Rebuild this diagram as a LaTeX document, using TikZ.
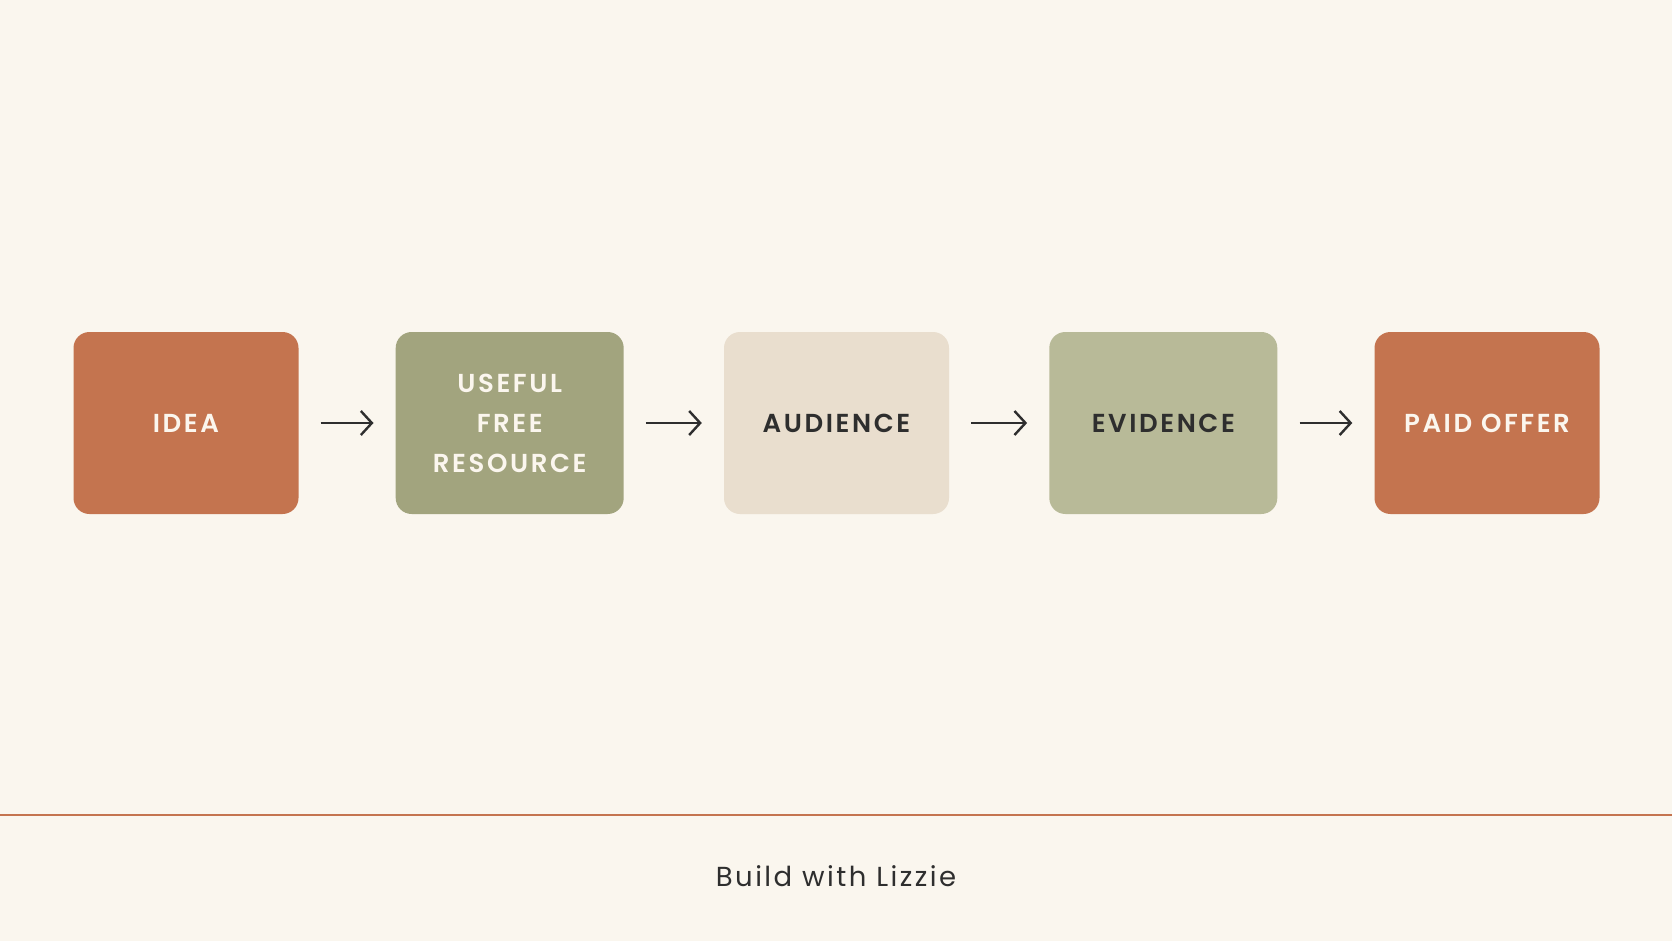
\documentclass[tikz,border=0pt]{standalone}
\usepackage{fontspec}
\setmainfont{Poppins}[BoldFont={Poppins SemiBold}]
\usetikzlibrary{arrows.meta}
\definecolor{bg}{HTML}{FAF6EE}
\definecolor{terra}{HTML}{C4744F}
\definecolor{olive}{HTML}{A2A47E}
\definecolor{sand}{HTML}{E9DECE}
\definecolor{sage}{HTML}{B8BA98}
\definecolor{ink}{HTML}{2E2E2E}
\definecolor{cream}{HTML}{FBF6EE}
\begin{document}
\begin{tikzpicture}[x=1pt,y=-1pt,
  stage/.style={rectangle, rounded corners=16pt, minimum height=182pt, align=center, inner sep=0pt,
    font=\fontsize{26}{40}\selectfont\bfseries\addfontfeatures{LetterSpace=10}},
  narrowbox/.style={minimum width=225pt},
  widebox/.style={minimum width=228pt},
  flow/.style={-{Straight Barb[length=11pt,width=24pt,line width=2.4pt]}, line width=2.4pt, draw=ink, shorten <=22pt, shorten >=22pt}]
\fill[bg] (0,0) rectangle (1672,941);
\useasboundingbox (0,0) rectangle (1672,941);
\node[stage, narrowbox, fill=terra, text=cream] (idea) at (186,423) {IDEA};
\node[stage, widebox, fill=olive, text=cream] (useful) at (509.7,423) {USEFUL\\FREE\\RESOURCE};
\node[stage, narrowbox, fill=sand, text=ink] (aud) at (836.5,423) {AUDIENCE};
\node[stage, widebox, fill=sage, text=ink] (evid) at (1163.3,423) {EVIDENCE};
\node[stage, narrowbox, fill=terra, text=cream] (paid) at (1487,423) {PAID OFFER};
\draw[flow] (idea) -- (useful);
\draw[flow] (useful) -- (aud);
\draw[flow] (aud) -- (evid);
\draw[flow] (evid) -- (paid);
\coordinate (lineL) at (0,815);
\coordinate (lineR) at (1672,815);
\draw[terra, line width=1.6pt] (lineL) -- (lineR);
\node[text=ink, font=\fontsize{27.5}{30}\selectfont\addfontfeatures{LetterSpace=9}] (brand) at (836,876) {Build with Lizzie};
\end{tikzpicture}
\end{document}
